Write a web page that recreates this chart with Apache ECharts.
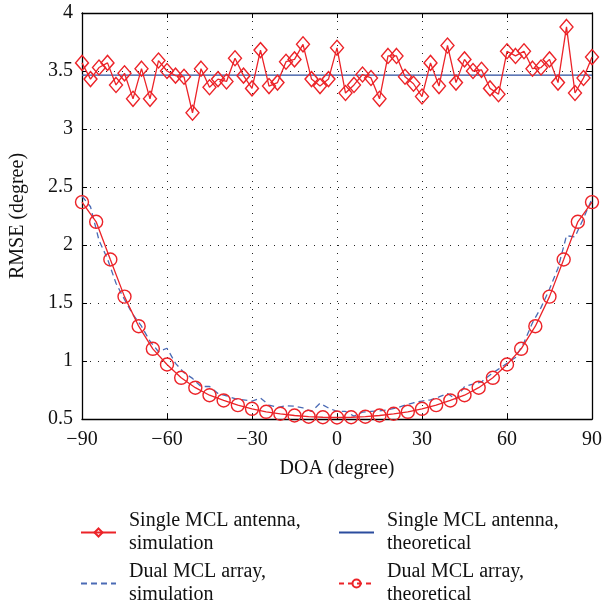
<!DOCTYPE html>
<html>
<head>
<meta charset="utf-8">
<script src="https://cdn.jsdelivr.net/npm/echarts@6/dist/echarts.min.js"></script>
<style>
  html, body { margin: 0; background: #fff; }
  #chart { width: 605px; height: 606px; }
</style>
</head>
<body>
<div id="chart"></div>
<script>
// DOA grid of the simulations (3 degree step) and of the theory curve (5 degree step)
const doaSim = [-90,-87,-84,-81,-78,-75,-72,-69,-66,-63,-60,-57,-54,-51,-48,-45,-42,-39,-36,-33,-30,-27,-24,-21,-18,-15,-12,-9,-6,-3,
  0,3,6,9,12,15,18,21,24,27,30,33,36,39,42,45,48,51,54,57,60,63,66,69,72,75,78,81,84,87,90];
const doaTheory = [-90,-85,-80,-75,-70,-65,-60,-55,-50,-45,-40,-35,-30,-25,-20,-15,-10,-5,
  0,5,10,15,20,25,30,35,40,45,50,55,60,65,70,75,80,85,90];
const doaFlat = [-90, 90];

const singleSim = [3.57,3.43,3.53,3.57,3.38,3.48,3.26,3.52,3.26,3.59,3.50,3.46,3.45,3.14,3.52,3.36,3.43,3.41,3.61,3.46,
  3.35,3.68,3.37,3.40,3.58,3.60,3.73,3.43,3.37,3.43,3.70,
  3.31,3.38,3.47,3.44,3.26,3.63,3.63,3.45,3.39,3.28,3.57,3.37,3.72,3.40,3.60,3.50,3.51,3.35,3.30,
  3.67,3.63,3.67,3.52,3.53,3.60,3.40,3.88,3.31,3.44,3.62];
const singleTheory = [3.465, 3.465];
const dualSim = [2.42,2.33,2.04,1.88,1.67,1.53,1.40,1.30,1.17,1.08,1.11,0.98,0.90,0.85,0.78,0.78,0.72,0.70,0.675,0.665,
  0.655,0.68,0.62,0.60,0.615,0.61,0.595,0.565,0.635,0.595,0.565,
  0.565,0.525,0.56,0.565,0.57,0.58,0.595,0.62,0.64,0.655,0.665,0.69,0.72,0.67,0.78,0.80,0.82,0.88,0.93,
  0.98,1.03,1.16,1.33,1.46,1.62,1.80,2.08,2.07,2.23,2.40];
const dualTheory = [2.37,2.20,1.875,1.555,1.30,1.105,0.97,0.855,0.77,0.705,0.66,0.62,0.588,0.562,0.545,0.53,0.52,0.515,
  0.513,0.515,0.52,0.53,0.545,0.562,0.588,0.62,0.66,0.705,0.77,0.855,0.97,1.105,1.30,1.555,1.875,2.20,2.37];

const names = [
  "Single MCL antenna,\nsimulation",
  "Single MCL antenna,\ntheoretical",
  "Dual MCL array,\nsimulation",
  "Dual MCL array,\ntheoretical"
];

const RED = "#ec2328";
const BLUE = "#2b4c9e";
const BLUE_DASH = "#4b6bb5";
const FONT = "Liberation Serif";
const FS = 20;

const pairs = (xs, ys) => xs.map((x, i) => [x, ys[i]]);

const chart = echarts.init(document.getElementById("chart"));

const gridDots = { show: true, lineStyle: { color: "#222", width: 1, type: [1, 7] } };
const frame = { show: true, onZero: false, lineStyle: { color: "#000", width: 1.3 } };
const ticksIn = { show: true, inside: true, length: 5, lineStyle: { color: "#000", width: 1 } };
const noMarker = { itemStyle: { color: "rgba(0,0,0,0)", borderWidth: 0 } };

const legendAt = (i, left, top, extra) => ({
  left, top, padding: 0,
  itemWidth: 35, itemHeight: 10,
  data: [Object.assign({ name: names[i] }, extra || {})],
  textStyle: { fontFamily: FONT, fontSize: FS, lineHeight: 23, color: "#111", padding: [23, 0, 0, 8] }
});

chart.setOption({
  animation: false,
  backgroundColor: "#fff",
  grid: { left: 81, right: 8, top: 13, bottom: 187 },
  legend: [
    legendAt(0, 80, 498),
    legendAt(1, 338, 498, noMarker),
    legendAt(2, 80, 549, noMarker),
    legendAt(3, 338, 549, { lineStyle: { type: [5, 4] } })
  ],
  xAxis: [
    {
      type: "value", min: -90, max: 90, interval: 30,
      axisLine: frame, axisTick: ticksIn, splitLine: gridDots,
      axisLabel: {
        margin: 11, fontFamily: FONT, fontSize: FS, color: "#111",
        formatter: v => (v < 0 ? "\u2212" + Math.abs(v) : String(v))
      },
      name: "DOA (degree)", nameLocation: "middle", nameGap: 40,
      nameTextStyle: { fontFamily: FONT, fontSize: FS, color: "#111" }
    },
    {
      type: "value", position: "top", min: -90, max: 90, interval: 30,
      axisLine: frame, axisTick: ticksIn, axisLabel: { show: false }, splitLine: { show: false }
    }
  ],
  yAxis: [
    {
      type: "value", min: 0.5, max: 4, interval: 0.5,
      axisLine: frame, axisTick: ticksIn, splitLine: gridDots,
      axisLabel: { margin: 9, fontFamily: FONT, fontSize: FS, color: "#111" },
      name: "RMSE (degree)", nameLocation: "middle", nameGap: 54,
      nameTextStyle: { fontFamily: FONT, fontSize: FS, color: "#111" }
    },
    {
      type: "value", position: "right", min: 0.5, max: 4, interval: 0.5,
      axisLine: frame, axisTick: ticksIn, axisLabel: { show: false }, splitLine: { show: false }
    }
  ],
  series: [
    {
      name: names[1], type: "line", data: pairs(doaFlat, singleTheory),
      showSymbol: false, symbol: "none",
      lineStyle: { color: BLUE, width: 1.3 }, itemStyle: { color: BLUE }
    },
    {
      name: names[2], type: "line", data: pairs(doaSim, dualSim),
      symbol: "none",
      lineStyle: { color: BLUE_DASH, width: 1.3, type: [6, 4] }, itemStyle: { color: BLUE_DASH }
    },
    {
      name: names[0], type: "line", data: pairs(doaSim, singleSim),
      symbol: "diamond", symbolSize: [13, 15],
      lineStyle: { color: RED, width: 1.3 },
      itemStyle: { color: "rgba(255,255,255,0)", borderColor: RED, borderWidth: 1.4 }
    },
    {
      name: names[3], type: "line", data: pairs(doaTheory, dualTheory),
      symbol: "circle", symbolSize: 13,
      lineStyle: { color: RED, width: 1.3 },
      itemStyle: { color: "rgba(255,255,255,0)", borderColor: RED, borderWidth: 1.4 }
    }
  ]
});
</script>
</body>
</html>
